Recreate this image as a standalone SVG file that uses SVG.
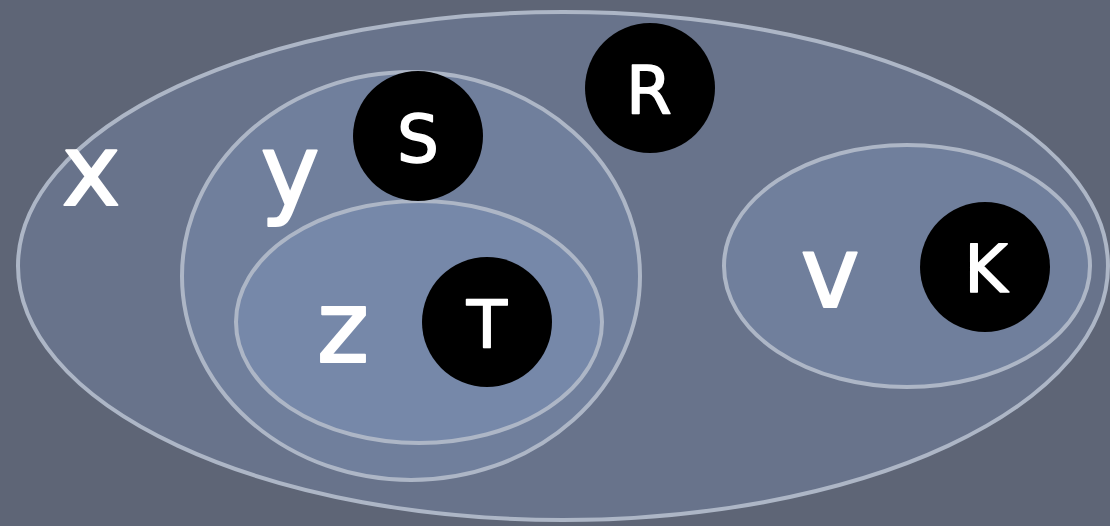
<svg xmlns="http://www.w3.org/2000/svg" width="1110" height="526" viewBox="0 0 1110 526">
<style>
.set{fill:#8fb0e0;fill-opacity:0.2;stroke:#adb6c6;stroke-width:4}
.el{fill:#000}
.lbl{font-family:"DejaVu Sans",sans-serif;fill:#fff;stroke:#fff;stroke-linejoin:round;stroke-linecap:round;text-anchor:middle}
.big{font-size:100px;stroke-width:2}
.cap{font-size:66px;stroke-width:1.5}
</style>
<rect width="1110" height="526" fill="#5e6576"/>
<g id="set-x">
<ellipse class="set" cx="563" cy="266" rx="545" ry="254"/>
<text class="lbl big" x="91" y="205">x</text>
</g>
<g id="set-y">
<ellipse class="set" cx="411" cy="276" rx="229" ry="204"/>
<text class="lbl big" x="290" y="205">y</text>
</g>
<g id="set-z">
<ellipse class="set" cx="419" cy="322" rx="183" ry="121"/>
<text class="lbl big" x="343" y="362">z</text>
</g>
<g id="set-v">
<ellipse class="set" cx="907" cy="266" rx="183" ry="121"/>
<text class="lbl big" x="830" y="307">v</text>
</g>
<g id="node-s">
<circle class="el" cx="418" cy="136" r="65"/>
<text class="lbl cap" x="418" y="162">S</text>
</g>
<g id="node-r">
<circle class="el" cx="650" cy="88" r="65"/>
<text class="lbl cap" x="649" y="113">R</text>
</g>
<g id="node-t">
<circle class="el" cx="487" cy="322" r="65"/>
<text class="lbl cap" x="487" y="348">T</text>
</g>
<g id="node-k">
<circle class="el" cx="985" cy="267" r="65"/>
<text class="lbl cap" x="986" y="292">K</text>
</g>
</svg>
